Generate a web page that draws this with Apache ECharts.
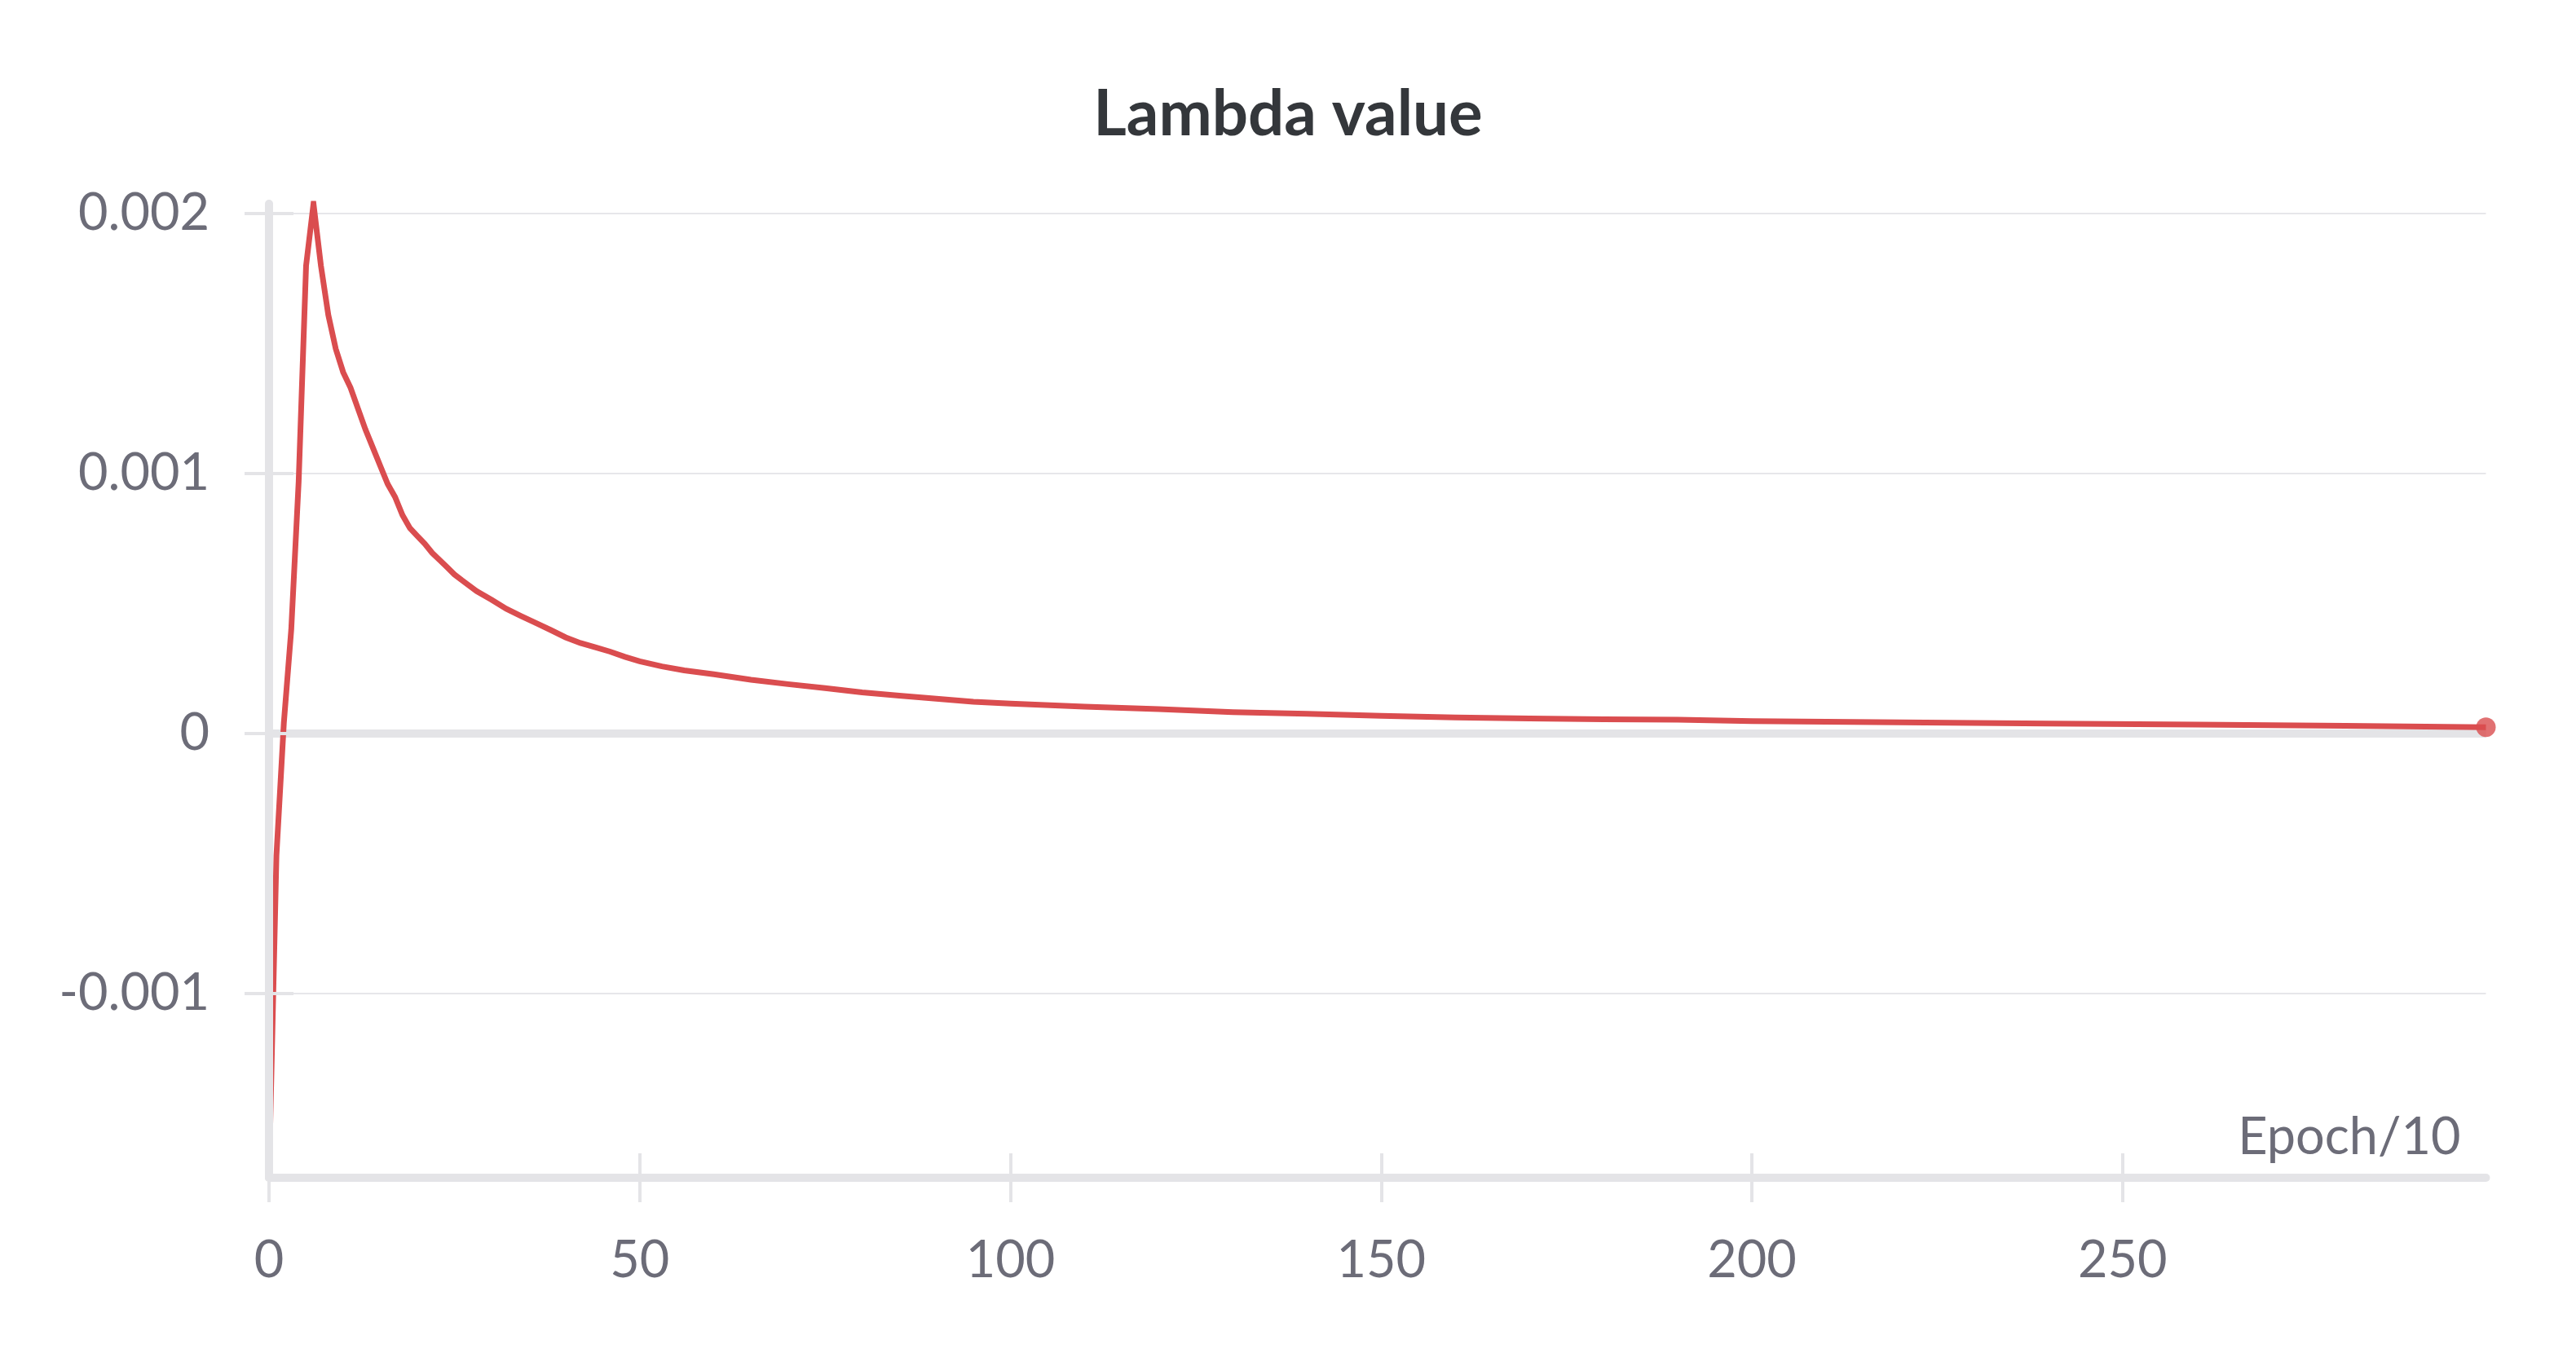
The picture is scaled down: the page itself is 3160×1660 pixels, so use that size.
<!DOCTYPE html>
<html>
<head>
<meta charset="utf-8">
<script src="https://cdn.jsdelivr.net/npm/echarts@6/dist/echarts.min.js"></script>
<style>
html,body{margin:0;padding:0;background:#fff;}
#chart{width:3160px;height:1660px;}
</style>
</head>
<body>
<div id="chart"></div>
<script>
// Data
const epochs = [0,1,2,3,4,5,6,7,8,9,10,11,12,13,14,15,16,17,18,19,20,21,22,23,24,25,26,28,30,32,34,36,38,40,42,44,46,48,50,53,56,60,65,70,75,80,85,90,95,100,110,120,130,140,150,160,170,180,190,200,220,240,260,280,299];
const lambdaValues = [-0.001709,-0.00047,0.00004,0.00040,0.00097,0.00180,0.002038,0.00180,0.00161,0.00148,0.00139,0.00133,0.00125,0.00117,0.00110,0.00103,0.00096,0.00091,0.00084,0.00079,0.00076,0.00073,0.000695,0.000668,0.000640,0.000612,0.000590,0.000548,0.000515,0.000480,0.000452,0.000425,0.000398,0.000370,0.000348,0.000332,0.000315,0.000295,0.000278,0.000258,0.000243,0.000228,0.000207,0.000190,0.000175,0.000158,0.000146,0.000134,0.000122,0.000115,0.000103,0.000094,0.000082,0.000076,0.000068,0.000062,0.000058,0.000055,0.000053,0.000048,0.000043,0.000038,0.000034,0.000030,0.000024];
const xTicks = [0,50,100,150,200,250];
const yTicks = [-0.001,0,0.001,0.002];
const yTickLabels = ['-0.001','0','0.001','0.002'];
const xMin = 0, xMax = 299;
const yMin = -0.001709, yMax = 0.002038;

const lineColor = '#da4d4f';
const gridColor = '#e7e7ea';
const axisColor = '#e4e4e7';
const labelColor = '#6c6c78';
const fontFam = 'Lato, "Open Sans", sans-serif';

const seriesData = epochs.map((e, i) => [e, lambdaValues[i]]);
const lastPoint = seriesData[seriesData.length - 1];

const chart = echarts.init(document.getElementById('chart'), null, {renderer: 'canvas'});
chart.setOption({
  animation: false,
  backgroundColor: '#ffffff',
  title: {
    text: 'Lambda value',
    left: 'center',
    top: 97,
    textStyle: {fontFamily: fontFam, fontSize: 78, fontWeight: 'bold', color: '#34373b'}
  },
  grid: {left: 330, right: 110.5, top: 250, bottom: 215, containLabel: false, outerBoundsMode: 'none'},
  xAxis: [
    {
      type: 'value', min: xMin, max: xMax, position: 'bottom', z: 0,
      axisLine: {show: false, onZero: false},
      axisTick: {show: true, inside: false, length: 30, lineStyle: {color: axisColor, width: 4}, customValues: xTicks},
      axisLabel: {show: true, customValues: xTicks, margin: 70, fontFamily: fontFam, fontSize: 63, color: labelColor},
      splitLine: {show: false},
      name: 'Epoch/10', nameLocation: 'end', nameGap: -31,
      nameTextStyle: {fontFamily: fontFam, fontSize: 63, color: labelColor, align: 'right', verticalAlign: 'bottom', padding: [0,0,18,0]}
    },
    {
      type: 'value', min: xMin, max: xMax, position: 'bottom', z: 5,
      axisLine: {show: true, onZero: false, lineStyle: {color: axisColor, width: 10}},
      axisTick: {show: true, inside: true, length: 30, lineStyle: {color: axisColor, width: 4}, customValues: xTicks},
      axisLabel: {show: false},
      splitLine: {show: false}
    }
  ],
  yAxis: [
    {
      type: 'value', min: yMin, max: yMax, position: 'left', z: 0,
      axisLine: {show: false},
      axisTick: {show: true, inside: false, length: 30, lineStyle: {color: axisColor, width: 4}, customValues: yTicks},
      axisLabel: {show: true, customValues: yTicks, margin: 73, fontFamily: fontFam, fontSize: 63, color: labelColor,
        formatter: function (v) { const i = yTicks.findIndex(t => Math.abs(t - v) < 1e-9); return i >= 0 ? yTickLabels[i] : ''; }},
      splitLine: {show: true, lineStyle: {color: gridColor, width: 2}}
    },
    {
      type: 'value', min: yMin, max: yMax, position: 'left', z: 5,
      axisLine: {show: true, onZero: false, lineStyle: {color: axisColor, width: 10}},
      axisTick: {show: true, inside: true, length: 30, lineStyle: {color: axisColor, width: 4}, customValues: yTicks},
      axisLabel: {show: false},
      splitLine: {show: false}
    }
  ],
  series: [
    {
      type: 'line', xAxisIndex: 0, yAxisIndex: 0, z: 2,
      data: seriesData,
      showSymbol: false, symbol: 'none',
      clip: true,
      lineStyle: {color: lineColor, width: 7, join: 'miter'},
      markLine: {
        silent: true, symbol: ['none','none'], z: 1,
        label: {show: false},
        lineStyle: {color: axisColor, width: 10, type: 'solid'},
        data: [{yAxis: 0}]
      }
    },
    {
      type: 'scatter', xAxisIndex: 0, yAxisIndex: 0, z: 3,
      data: [lastPoint],
      symbol: 'circle', symbolSize: 24,
      itemStyle: {color: lineColor},
      clip: false
    }
  ]
});
</script>
</body>
</html>
